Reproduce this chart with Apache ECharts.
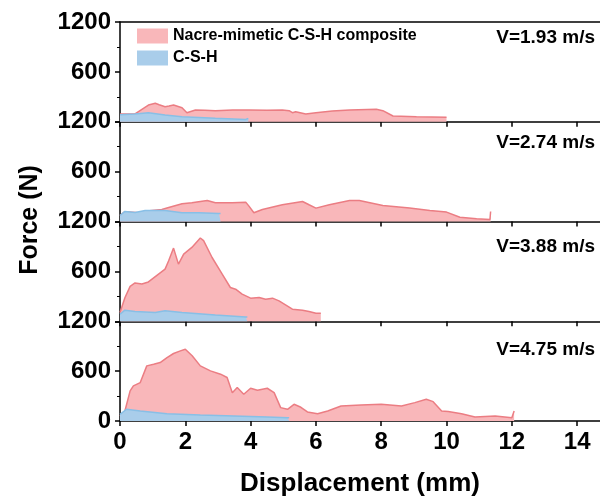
<!DOCTYPE html>
<html>
<head>
<meta charset="utf-8">
<script src="https://cdn.jsdelivr.net/npm/echarts@6/dist/echarts.min.js"></script>
<style>
  html, body { margin: 0; padding: 0; background: #fff; }
  #chart { width: 600px; height: 500px; }
</style>
</head>
<body>
<div id="chart"></div>
<script>
// x ticks / y ticks
const xTicks = [0, 2, 4, 6, 8, 10, 12, 14]
const xMax = 14.7
const yMax = 1200
const yStep = 600

const seriesNames = ['Nacre-mimetic C-S-H composite', 'C-S-H']
const speedLabels = ['V=1.93 m/s', 'V=2.74 m/s', 'V=3.88 m/s', 'V=4.75 m/s']

// [displacement mm, force N]
const nacre193 = [[0, 93], [0.46, 95], [0.51, 110], [0.87, 201], [1.08, 222], [1.2, 205], [1.38, 181], [1.5, 190],
  [1.64, 201], [1.9, 169], [2.05, 109], [2.31, 142], [2.6, 138], [2.92, 133], [3.45, 140], [3.95, 142], [4.5, 138],
  [4.97, 142], [5.18, 133], [5.28, 109], [5.38, 121], [5.69, 93], [6.0, 109], [6.5, 128], [7.03, 142], [7.85, 150],
  [8.05, 133], [8.36, 69], [9.08, 61], [10.0, 53]]
const csh193 = [[0, 85], [0.46, 93], [0.87, 109], [1.38, 80], [1.9, 61], [2.92, 41], [3.85, 28], [3.93, 40]]

const nacre274 = [[0, 70], [0.15, 118], [0.6, 106], [0.9, 130], [1.28, 145], [1.49, 169], [1.9, 213], [2.2, 225],
  [2.67, 253], [2.92, 225], [3.44, 225], [3.85, 233], [3.95, 185], [4.1, 105], [4.36, 145], [4.97, 201],
  [5.59, 241], [5.79, 201], [6.0, 161], [6.41, 201], [7.03, 253], [7.33, 253], [8.05, 193], [8.87, 161],
  [9.49, 133], [10.0, 113], [10.41, 52], [10.92, 32], [11.33, 24], [11.35, 121]]
const csh274 = [[0, 72], [0.15, 121], [0.46, 109], [0.77, 133], [1.38, 133], [1.9, 105], [2.41, 105], [3.03, 96], [3.08, 96]]

const nacre388 = [[0, 104], [0.15, 282], [0.31, 420], [0.46, 461], [0.67, 449], [0.87, 473], [1.18, 567],
  [1.38, 627], [1.49, 727], [1.64, 880], [1.79, 687], [1.95, 808], [2.2, 888], [2.46, 1001], [2.56, 969],
  [2.82, 767], [3.13, 567], [3.38, 406], [3.54, 386], [3.74, 326], [4.0, 278], [4.26, 286], [4.46, 265],
  [4.67, 278], [4.87, 245], [5.28, 145], [5.59, 133], [5.79, 117], [6.0, 96], [6.15, 96]]
const csh388 = [[0, 84], [0.15, 133], [0.46, 117], [1.08, 104], [1.38, 125], [1.9, 104], [2.92, 76], [3.85, 52], [3.9, 52]]

const nacre475 = [[0, 60], [0.15, 121], [0.31, 362], [0.41, 422], [0.62, 462], [0.82, 663], [1.03, 683],
  [1.23, 703], [1.44, 763], [1.64, 812], [1.85, 844], [2.0, 864], [2.21, 784], [2.46, 663], [2.77, 603],
  [3.08, 563], [3.28, 523], [3.44, 341], [3.59, 402], [3.79, 322], [4.0, 394], [4.21, 370], [4.51, 394],
  [4.72, 341], [4.92, 161], [5.13, 141], [5.33, 201], [5.54, 165], [5.74, 109], [6.05, 88], [6.36, 121],
  [6.77, 181], [7.38, 193], [8.0, 201], [8.62, 181], [9.03, 221], [9.38, 261], [9.59, 233], [9.85, 121],
  [10.05, 113], [10.46, 88], [10.87, 48], [11.49, 60], [12.0, 40], [12.05, 40], [12.07, 121]]
const csh475 = [[0, 80], [0.2, 141], [0.62, 121], [1.44, 88], [2.46, 72], [3.49, 60], [4.51, 48], [5.13, 40], [5.18, 40]]

const panels = [
  { nacre: nacre193, csh: csh193 },
  { nacre: nacre274, csh: csh274 },
  { nacre: nacre388, csh: csh388 },
  { nacre: nacre475, csh: csh475 }
]

const FONT = '"Liberation Sans", Arial, sans-serif'
const PINK_FILL = '#f9b7ba'
const PINK_LINE = '#eb7d83'
const BLUE_FILL = '#a9cdea'
const BLUE_LINE = '#88bfe6'

const TOP = 22
const H = 99.75
const titleTops = [28, 133, 237, 340]

const chart = echarts.init(document.getElementById('chart'))

const axisLine = { show: true, lineStyle: { color: '#000', width: 1.5 } }
const tickLabel = { color: '#000', fontSize: 24, fontWeight: 'bold', fontFamily: FONT }

const grids = panels.map((_, i) => ({ left: 120, right: 0, top: TOP + i * H, height: H }))

const xAxes = panels.map((_, i) => ({
  gridIndex: i,
  type: 'value',
  min: 0,
  max: xMax,
  axisLine,
  axisTick: { show: true, length: 5, lineStyle: { color: '#000', width: 1.5 }, customValues: xTicks },
  axisLabel: i === 3 ? { ...tickLabel, margin: 9, customValues: xTicks, formatter: v => String(v) } : { show: false },
  splitLine: { show: false },
  name: i === 3 ? 'Displacement (mm)' : '',
  nameLocation: 'middle',
  nameGap: 50,
  nameTextStyle: { color: '#000', fontSize: 26, fontWeight: 'bold', fontFamily: FONT }
}))
// top border of the first panel
xAxes.push({
  gridIndex: 0,
  type: 'value',
  position: 'top',
  min: 0,
  max: xMax,
  axisLine,
  axisTick: { show: false },
  axisLabel: { show: false },
  splitLine: { show: false }
})

const yAxes = panels.map((_, i) => ({
  gridIndex: i,
  type: 'value',
  min: 0,
  max: yMax,
  interval: yStep,
  axisLine,
  axisTick: { show: true, length: 5, lineStyle: { color: '#000', width: 1.5 } },
  minorTick: { show: true, splitNumber: 2, length: 3, lineStyle: { color: '#000', width: 1 } },
  axisLabel: { ...tickLabel, margin: 9, showMinLabel: i === 3, formatter: v => String(v) },
  splitLine: { show: false }
}))

const series = []
panels.forEach((p, i) => {
  series.push({
    name: seriesNames[0],
    type: 'line',
    xAxisIndex: i,
    yAxisIndex: i,
    data: p.nacre,
    showSymbol: false,
    lineStyle: { color: PINK_LINE, width: 1.5 },
    itemStyle: { color: PINK_FILL },
    areaStyle: { color: PINK_FILL, opacity: 1 },
    z: 2
  })
  series.push({
    name: seriesNames[1],
    type: 'line',
    xAxisIndex: i,
    yAxisIndex: i,
    data: p.csh,
    showSymbol: false,
    lineStyle: { color: BLUE_LINE, width: 1.5 },
    itemStyle: { color: BLUE_FILL },
    areaStyle: { color: BLUE_FILL, opacity: 1 },
    z: 3
  })
})

chart.setOption({
  animation: false,
  backgroundColor: '#fff',
  title: speedLabels.map((t, i) => ({
    text: t,
    right: 5,
    top: titleTops[i],
    padding: 0,
    textStyle: { color: '#000', fontSize: 19, fontWeight: 'bold', fontFamily: FONT }
  })),
  legend: {
    data: seriesNames,
    left: 137,
    top: 28,
    orient: 'vertical',
    padding: 0,
    icon: 'rect',
    itemWidth: 31,
    itemHeight: 15,
    itemGap: 6,
    itemStyle: { borderWidth: 0 },
    textStyle: { color: '#000', fontSize: 16, fontWeight: 'bold', fontFamily: FONT }
  },
  grid: grids,
  xAxis: xAxes,
  yAxis: yAxes,
  series,
  graphic: [{
    type: 'text',
    x: 30,
    y: 220,
    rotation: Math.PI / 2,
    style: {
      text: 'Force (N)',
      font: 'bold 25px ' + FONT,
      fill: '#000',
      align: 'center',
      verticalAlign: 'middle'
    }
  }]
})
</script>
</body>
</html>
